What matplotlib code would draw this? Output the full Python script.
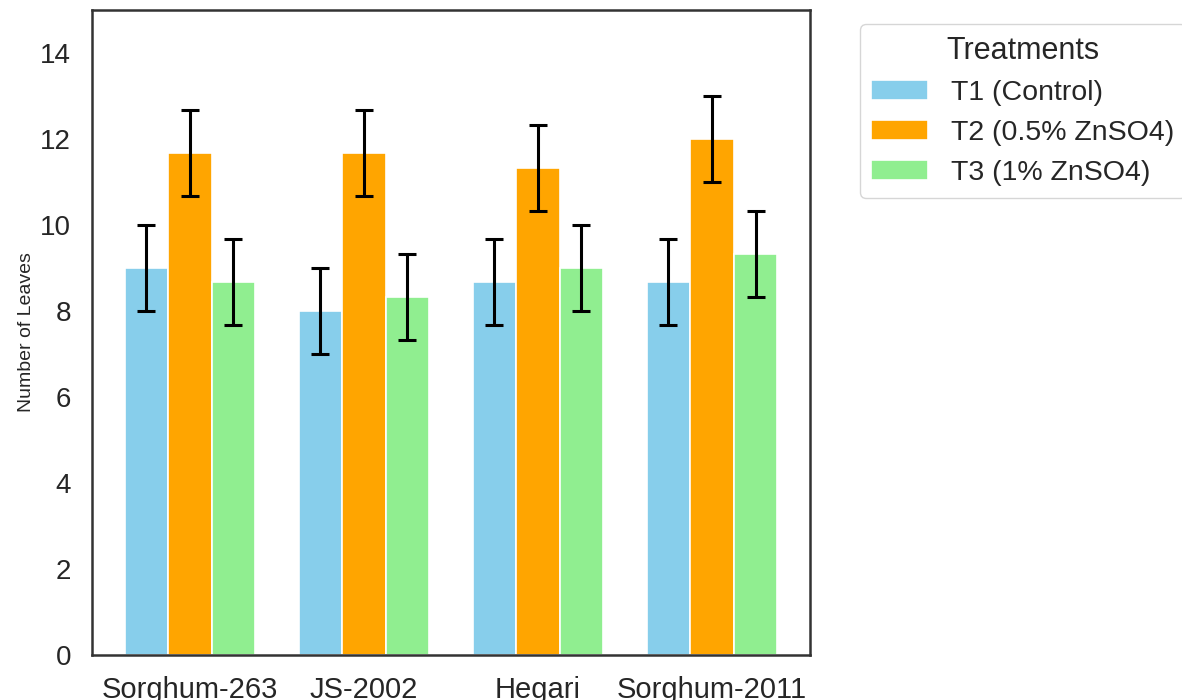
import numpy as np
import matplotlib.pyplot as plt
import seaborn as sns

# 数据
varieties = ['Sorghum-263', 'JS-2002', 'Hegari', 'Sorghum-2011']
treatments = ['T1 (Control)', 'T2 (0.5% ZnSO4)', 'T3 (1% ZnSO4)']
t1_leaves = [9.0, 8.0, 8.67, 8.67]
t2_leaves = [11.67, 11.67, 11.33, 12.0]
t3_leaves = [8.67, 8.33, 9.0, 9.33]
t1_err = [1.0, 1.0, 1.0, 1.0]
t2_err = [1.0, 1.0, 1.0, 1.0]
t3_err = [1.0, 1.0, 1.0, 1.0]
colors = ['skyblue', 'orange', 'lightgreen']

sns.set_style('white')
plt.rcParams['font.family'] = ['Liberation Sans', 'DejaVu Sans']

x = np.arange(len(varieties))
width = 0.25

fig = plt.figure(figsize=(11.82, 7), dpi=100)
ax = fig.add_axes([0.0778, 0.0643, 0.6074, 0.9214])

series = [t1_leaves, t2_leaves, t3_leaves]
errors = [t1_err, t2_err, t3_err]
for i in range(3):
    ax.bar(x + (i - 1) * width, series[i], width, yerr=errors[i],
           color=colors[i], edgecolor='white', linewidth=1.2,
           label=treatments[i],
           error_kw=dict(ecolor='black', elinewidth=2.2, capsize=6.5, capthick=2.2))

ax.set_ylim(0, 15)
ax.set_yticks(range(0, 15, 2))
ax.set_xticks(x)
ax.set_xticklabels(varieties)
ax.set_ylabel('Number of Leaves', fontsize=14)
ax.tick_params(axis='both', length=0, colors='#262626')
ax.tick_params(axis='x', labelsize=21, pad=15)
ax.tick_params(axis='y', labelsize=20, pad=15)
for s in ax.spines.values():
    s.set_linewidth(1.8)
    s.set_color('#333333')

leg = ax.legend(title='Treatments', bbox_to_anchor=(1.05, 1), loc='upper left',
                fontsize=20.5, title_fontsize=22)
leg.get_frame().set_edgecolor('#cccccc')

plt.savefig('out.png', dpi=100)
